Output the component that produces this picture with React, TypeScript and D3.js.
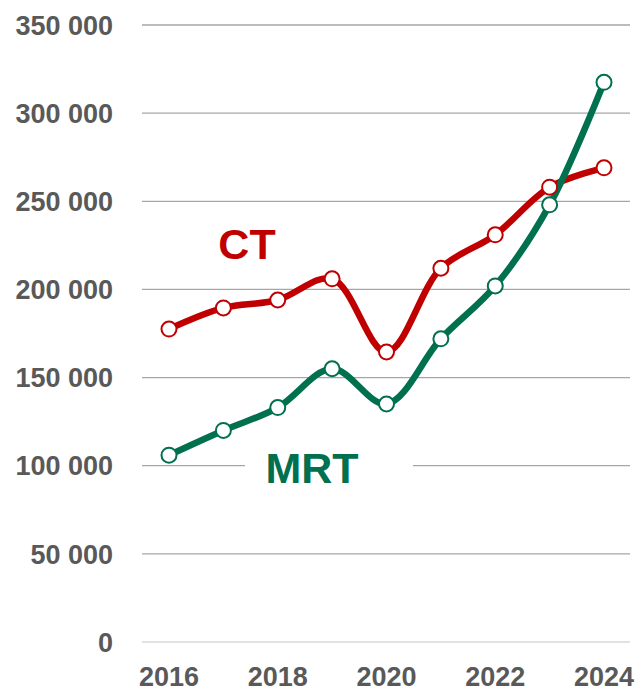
import React, { useRef, useEffect } from 'react';
import * as d3 from 'd3';

const years = [2016, 2017, 2018, 2019, 2020, 2021, 2022, 2023, 2024];
const ctValues = [177500, 189500, 194000, 206000, 164500, 212000, 231000, 258000, 269000];
const mrtValues = [106000, 120000, 133000, 155000, 135000, 172000, 202000, 248000, 317500];
const yTicks = [0, 50000, 100000, 150000, 200000, 250000, 300000, 350000];
const xTickYears = [2016, 2018, 2020, 2022, 2024];

const RED = '#C00000';
const GREEN = '#00704F';
const FONT = '"Liberation Sans", Arial, sans-serif';

const App = () => {
  const svgRef = useRef<SVGSVGElement>(null);

  useEffect(() => {
    const svg = d3.select(svgRef.current);
    svg.selectAll('*').remove();

    const x = d3.scaleLinear().domain([2016, 2024]).range([169, 604]);
    const y = d3.scaleLinear().domain([0, 350000]).range([642, 25]);

    // gridlines
    svg.append('g')
      .selectAll('line')
      .data(yTicks)
      .enter().append('line')
      .attr('x1', 142)
      .attr('x2', 630)
      .attr('y1', d => y(d))
      .attr('y2', d => y(d))
      .attr('stroke', d => (d === 0 ? '#d9d9d9' : '#a6a6a6'))
      .attr('stroke-width', 1.3);

    // y tick labels
    svg.append('g')
      .selectAll('text')
      .data(yTicks)
      .enter().append('text')
      .attr('x', 113)
      .attr('y', d => y(d))
      .attr('dy', '0.36em')
      .attr('text-anchor', 'end')
      .attr('font-family', FONT)
      .attr('font-weight', 'bold')
      .attr('font-size', 27)
      .attr('fill', '#595959')
      .text(d => d3.format(',')(d).replace(/,/g, ' '));

    // x tick labels
    svg.append('g')
      .selectAll('text')
      .data(xTickYears)
      .enter().append('text')
      .attr('x', d => x(d))
      .attr('y', 686)
      .attr('text-anchor', 'middle')
      .attr('font-family', FONT)
      .attr('font-weight', 'bold')
      .attr('font-size', 27)
      .attr('fill', '#595959')
      .text(d => d);

    const line = d3.line<number>()
      .x((_, i) => x(years[i]))
      .y(d => y(d))
      .curve(d3.curveCatmullRom.alpha(0.5));

    const series = [
      { values: ctValues, color: RED },
      { values: mrtValues, color: GREEN },
    ];

    series.forEach(s => {
      svg.append('path')
        .datum(s.values)
        .attr('d', line)
        .attr('fill', 'none')
        .attr('stroke', s.color)
        .attr('stroke-width', 6.5)
        .attr('stroke-linejoin', 'round');
    });

    series.forEach(s => {
      svg.append('g')
        .selectAll('circle')
        .data(s.values)
        .enter().append('circle')
        .attr('cx', (_, i) => x(years[i]))
        .attr('cy', d => y(d))
        .attr('r', 7.5)
        .attr('fill', '#fff')
        .attr('stroke', s.color)
        .attr('stroke-width', 2);
    });

    // series labels
    svg.append('text')
      .attr('x', 247)
      .attr('y', 259)
      .attr('text-anchor', 'middle')
      .attr('font-family', FONT)
      .attr('font-weight', 'bold')
      .attr('font-size', 43)
      .attr('fill', RED)
      .text('CT');

    svg.append('rect')
      .attr('x', 245)
      .attr('y', 445)
      .attr('width', 168)
      .attr('height', 44)
      .attr('fill', '#fff');

    svg.append('text')
      .attr('x', 312)
      .attr('y', 483)
      .attr('text-anchor', 'middle')
      .attr('font-family', FONT)
      .attr('font-weight', 'bold')
      .attr('font-size', 43)
      .attr('fill', GREEN)
      .text('MRT');
  }, []);

  return (
    <svg
      ref={svgRef}
      width={638}
      height={691}
      style={{ position: 'absolute', left: 0, top: 0, background: '#fff' }}
    />
  );
};

export default App;
